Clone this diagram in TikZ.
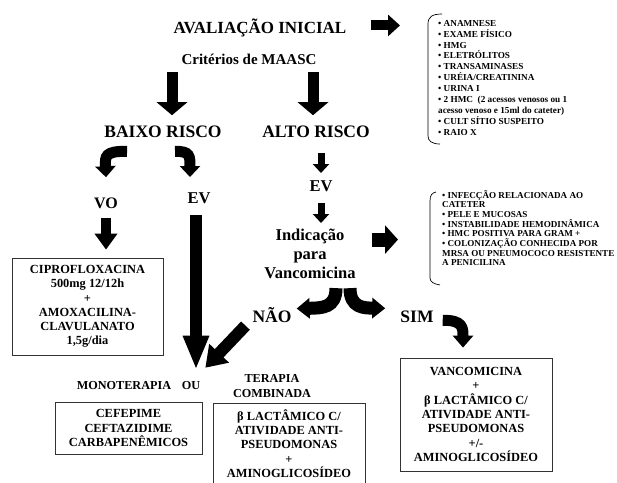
\documentclass[tikz,border=0pt]{standalone}
\usepackage{fontspec}
\setmainfont{Liberation Serif}
\usepackage{xcolor}
\usetikzlibrary{arrows.meta}

\begin{document}
\begin{tikzpicture}[x=1pt,y=-1pt,
  lbl/.style={inner sep=0pt,font=\bfseries\fontsize{17.5}{19}\selectfont},
  small/.style={inner sep=0pt,font=\bfseries\fontsize{12.2}{15}\selectfont},
  lista/.style={inner sep=0pt,align=left,anchor=north west,font=\bfseries\fontsize{9.2}{10.9}\selectfont},
  caixa/.style={draw=black!80,line width=0.8pt,inner sep=0pt,align=center,font=\bfseries\fontsize{12.4}{14.4}\selectfont},
  chave/.style={line width=0.7pt}]
		\useasboundingbox (0,0) rectangle (617,482);

		\node[lbl,anchor=base,font=\bfseries\fontsize{17}{19}\selectfont] (aval) at (260,33) {AVALIAÇÃO INICIAL};
		\node[lbl,anchor=base,font=\bfseries\fontsize{15}{17}\selectfont] (crit) at (249,64) {Critérios de MAASC};
		\node[lbl,anchor=base] (baixo) at (163,137) {BAIXO RISCO};
		\node[lbl,anchor=base] (alto) at (316,137) {ALTO RISCO};
		\node[lbl,anchor=base,font=\bfseries\fontsize{16}{18}\selectfont] (vo) at (106,208) {VO};
		\node[lbl,anchor=base,font=\bfseries\fontsize{16.5}{18}\selectfont] (evL) at (199,203) {EV};
		\node[lbl,anchor=base,font=\bfseries\fontsize{16.5}{18}\selectfont] (evR) at (321,191) {EV};
		\node[lbl,anchor=north,align=center,font=\bfseries\fontsize{16.5}{19}\selectfont] (indic) at (310,229) {Indicação\\para\\Vancomicina};
		\node[lbl,anchor=base] (nao) at (272,322) {NÃO};
		\node[lbl,anchor=base] (sim) at (417,322) {SIM};
		\node[small,anchor=base] (mono) at (124,389) {MONOTERAPIA};
		\node[small,anchor=base] (ou) at (191,389) {OU};
		\node[small,anchor=north,align=center] (combi) at (272,374) {TERAPIA\\COMBINADA};

		\node[lista] (exames) at (438,20) {• ANAMNESE\\• EXAME FÍSICO\\• HMG\\• ELETRÓLITOS\\• TRANSAMINASES\\• URÉIA/CREATININA\\• URINA I\\• 2 HMC~~(2 acessos venosos ou 1\\acesso venoso e 15ml do cateter)\\• CULT SÍTIO SUSPEITO\\• RAIO X};
		\node[lista,font=\bfseries\fontsize{9.1}{9.7}\selectfont] (criterios) at (442,190) {• INFECÇÃO RELACIONADA AO\\CATETER\\• PELE E MUCOSAS\\• INSTABILIDADE HEMODINÂMICA\\• HMC POSITIVA PARA GRAM +\\• COLONIZAÇÃO CONHECIDA POR\\MRSA OU PNEUMOCOCO RESISTENTE\\A PENICILINA};

		\node[caixa,minimum width=151pt,minimum height=97pt,font=\bfseries\fontsize{12.4}{14.3}\selectfont] (cipro) at (87.5,306.5) {CIPROFLOXACINA\\500mg 12/12h\\+\\AMOXACILINA-\\CLAVULANATO\\1,5g/dia};
		\node[caixa,minimum width=147pt,minimum height=52pt] (cefe) at (128.5,428) {CEFEPIME\\CEFTAZIDIME\\CARBAPENÊMICOS};
		\node[caixa,minimum width=152pt,minimum height=81pt] (betalac) at (289,443.5) {β LACTÂMICO C/\\ATIVIDADE ANTI-\\PSEUDOMONAS\\+\\AMINOGLICOSÍDEO};
		\node[caixa,minimum width=152pt,minimum height=113pt] (vanco) at (476,414.5) {VANCOMICINA\\+\\β LACTÂMICO C/\\ATIVIDADE ANTI-\\PSEUDOMONAS\\+/-\\AMINOGLICOSÍDEO};

		\draw[chave] (442,14) .. controls (432,14) and (428,17) .. (428,24) -- (428,136) .. controls (428,141) and (432,144) .. (440,144);
		\draw[chave] (436,192) .. controls (432,193) and (430,195) .. (430,201) -- (430,278) .. controls (430,282) and (434,284) .. (440,285);

		\draw[line width=10pt,-{Triangle[length=12pt,width=21pt]},shorten <=24pt,shorten >=38pt] ([yshift=2pt]aval.east) -- ([yshift=2pt]aval.east -| exames.west);
		\draw[line width=14pt,-{Triangle[length=13pt,width=28pt]},shorten <=16pt,shorten >=44pt] ([yshift=14.5pt]indic.east) -- ([yshift=14.5pt]indic.east -| criterios.west);

		\draw[line width=11pt,-{Triangle[length=13pt,width=30pt]},shorten <=8pt,shorten >=10pt] ([xshift=9pt]baixo.north |- crit.south) -- ([xshift=9pt]baixo.north);
		\draw[line width=11pt,-{Triangle[length=13pt,width=30pt]},shorten <=8pt,shorten >=10pt] ([xshift=-3pt]alto.north |- crit.south) -- ([xshift=-3pt]alto.north);
		\draw[line width=7pt,-{Triangle[length=9pt,width=16pt]},shorten <=16pt,shorten >=7pt] (evR.north |- alto.south) -- (evR.north);
		\draw[line width=7pt,-{Triangle[length=9pt,width=16pt]},shorten <=12pt,shorten >=6pt] (evR.south) -- (evR.south |- indic.north);
		\draw[line width=10pt,-{Triangle[length=16pt,width=22pt]},shorten <=10pt,shorten >=8pt] (vo.south) -- (vo.south |- cipro.north);
		\draw[line width=12pt,-{Triangle[length=34pt,width=24pt]},shorten <=12pt,shorten >=11pt] ([xshift=-3pt]evL.south) -- ([xshift=-3pt]evL.south |- ou.north);
		\draw[line width=12pt,-{Triangle[length=20pt,width=26pt]},shorten <=10pt] ([yshift=4pt]nao.south west) -- ([xshift=5pt,yshift=13pt]ou.north east);

		\draw[line width=11pt,-{Triangle[length=11pt,width=20pt]}] ([xshift=-36pt,yshift=-14pt]baixo.south) .. controls (105,151) and (105,156) .. ([yshift=20pt]vo.north);
		\draw[line width=11pt,-{Triangle[length=11pt,width=20pt]}] ([xshift=12pt,yshift=-14pt]baixo.south) .. controls (190,151) and (190,156) .. ([xshift=-9pt,yshift=15pt]evL.north);
		\draw[line width=13pt,-{Triangle[length=13pt,width=20pt]}] ([xshift=26pt,yshift=-9pt]indic.south) .. controls (336,308) and (322,308) .. ([xshift=5pt,yshift=6pt]nao.east);
		\draw[line width=13pt,-{Triangle[length=13pt,width=20pt]}] ([xshift=40pt,yshift=-9pt]indic.south) .. controls (350,308) and (364,308) .. ([xshift=-15pt,yshift=8pt]sim.west);
		\draw[line width=11pt,-{Triangle[length=12pt,width=20pt]}] ([xshift=9pt,yshift=-4pt]sim.east) .. controls (463,320) and (463,328) .. ([xshift=-13pt,yshift=10pt]vanco.north);
		\end{tikzpicture}
\end{document}
